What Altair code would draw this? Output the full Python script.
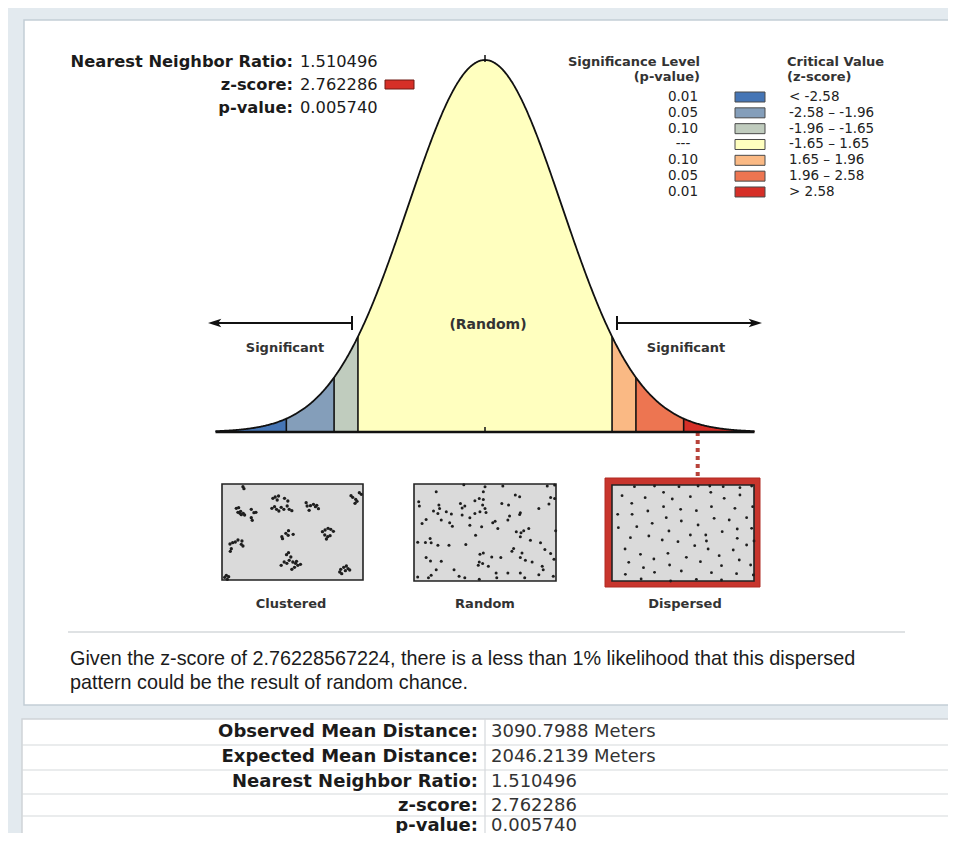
import math
import altair as alt
import numpy as np
import pandas as pd

# ---------------- data ----------------
summary_labels = ["Nearest Neighbor Ratio:", "z-score:", "p-value:"]
summary_values = ["1.510496", "2.762286", "0.005740"]
z_score = 2.762286

bin_lo = [-3.5, -2.58, -1.96, -1.65, 1.65, 1.96, 2.58]
bin_hi = [-2.58, -1.96, -1.65, 1.65, 1.96, 2.58, 3.5]
bin_colors = ["#4575b5", "#849eba", "#c0ccbe", "#ffffbf", "#fab984", "#ed7551", "#d62f27"]
p_levels = ["0.01", "0.05", "0.10", "---", "0.10", "0.05", "0.01"]
crit_labels = ["< -2.58", "-2.58 \u2013 -1.96", "-1.96 \u2013 -1.65", "-1.65 \u2013 1.65",
               "\u00a01.65 \u2013 1.96", "\u00a01.96 \u2013 2.58", "> 2.58"]
boundaries = [-2.58, -1.96, -1.65, 1.65, 1.96, 2.58]

pattern_names = ["Clustered", "Random", "Dispersed"]
clustered_pts = [
    (75, 20), (78, 26),
    (55, 85), (62, 83), (60, 97), (66, 100), (70, 104), (76, 100), (80, 105), (68, 94),
    (100, 88), (108, 98), (114, 97), (100, 113), (103, 121),
    (165, 55), (172, 51), (182, 48), (178, 60), (200, 55), (210, 63), (162, 85), (170, 80),
    (176, 88), (183, 93), (190, 82), (198, 88), (208, 78), (214, 88), (222, 92),
    (265, 68), (268, 78), (278, 77), (287, 73), (293, 80), (302, 86), (274, 91), (297, 76),
    (400, 47), (405, 52), (414, 58), (425, 38), (431, 43), (412, 70), (418, 64),
    (192, 170), (194, 176), (204, 160), (212, 152), (211, 166), (226, 163),
    (314, 155), (322, 150), (331, 145), (339, 148), (347, 154), (321, 165), (330, 170), (337, 167), (326, 177),
    (36, 192), (44, 188), (52, 186), (60, 180), (72, 183), (70, 193), (75, 198), (40, 206), (37, 214),
    (206, 224), (212, 218), (219, 231), (199, 246), (207, 250), (214, 241), (225, 246), (233, 250),
    (240, 256), (230, 262), (222, 268), (190, 256), (248, 253), (236, 244),
    (366, 276), (369, 268), (378, 262), (386, 258), (391, 266), (396, 270), (383, 272), (372, 281),
    (20, 292), (28, 298), (32, 290), (25, 286),
]
random_pts = [
    (80, 35), (162, 14), (225, 20), (278, 18), (410, 18), (432, 15),
    (28, 65), (30, 78), (220, 35), (152, 70), (165, 78), (157, 84), (195, 62), (208, 55), (220, 58),
    (218, 75), (225, 85), (275, 70), (295, 75), (315, 45), (328, 50), (420, 52), (432, 55), (415, 72),
    (88, 75), (90, 85), (72, 93), (85, 100), (110, 95), (125, 102), (157, 105), (180, 113), (195, 100),
    (210, 95), (228, 97), (385, 85), (330, 98), (328, 103), (298, 108), (293, 120),
    (50, 118), (38, 130), (95, 120), (120, 128), (128, 138), (180, 135), (255, 123), (248, 128),
    (263, 145), (215, 140), (318, 155), (332, 158), (340, 152), (355, 145), (330, 170), (197, 165),
    (62, 175), (65, 188), (48, 187), (25, 186), (85, 195), (118, 195), (168, 193),
    (360, 180), (390, 188), (435, 152), (310, 205), (305, 213), (335, 218), (403, 208), (420, 220),
    (210, 222), (220, 218), (245, 230), (272, 232), (208, 245), (218, 250), (205, 255), (235, 258),
    (50, 232), (63, 242), (95, 243), (330, 232), (345, 240), (365, 245), (430, 237),
    (133, 268), (80, 268), (258, 278), (293, 278), (330, 278), (398, 268), (395, 258),
    (25, 290), (57, 292), (65, 285), (148, 288), (165, 292), (208, 297), (260, 292), (343, 292),
    (385, 283), (428, 288),
]
dispersed_pts = [
    (105, 35), (165, 33), (238, 35), (295, 33), (330, 33), (370, 35), (420, 38), (455, 33),
    (68, 62), (137, 68), (192, 52), (218, 72), (272, 65), (333, 52), (373, 70), (420, 60),
    (97, 85), (192, 95), (243, 103), (290, 107), (335, 95), (405, 100), (458, 95),
    (55, 118), (98, 118), (145, 108), (200, 128), (245, 138), (343, 130), (388, 135), (440, 128),
    (57, 158), (112, 155), (158, 145), (208, 168), (272, 180), (295, 150), (318, 180), (367, 170),
    (412, 162), (455, 160),
    (93, 188), (148, 183), (188, 195), (235, 200), (285, 212), (320, 198), (412, 190), (462, 198),
    (77, 222), (123, 238), (163, 252), (205, 235), (260, 247), (325, 222), (358, 242), (400, 225), (440, 210),
    (88, 262), (132, 278), (210, 270), (245, 288), (302, 260), (365, 272), (418, 255), (452, 270),
    (78, 298), (125, 312), (165, 292), (213, 318), (290, 313), (335, 293), (365, 315), (410, 296), (460, 300),
]

message_lines = [
    "Given the z-score of 2.76228567224, there is a less than 1% likelihood that this dispersed",
    "pattern could be the result of random chance.",
]
table_labels = ["Observed Mean Distance:", "Expected Mean Distance:", "Nearest Neighbor Ratio:",
                "z-score:", "p-value:"]
table_values = ["3090.7988 Meters", "2046.2139 Meters", "1.510496", "2.762286", "0.005740"]

# ---------------- layout helpers ----------------
CX = (8, 948)
CY = (8, 833)
W, H = CX[1] - CX[0], CY[1] - CY[0]
VERD = "DejaVu Sans"
TEXTC = "#1b1b1b"


def fit(d0, d1, s0, s1, c0, c1):
    k = (d1 - d0) / (s1 - s0)
    return [d0 + (c0 - s0) * k, d0 + (c1 - s0) * k]


px_x = alt.Scale(domain=list(CX), nice=False, zero=False)
px_y = alt.Scale(domain=list(CY), nice=False, zero=False, reverse=True)


def rects(rows, **kw):
    df = pd.DataFrame(rows, columns=["x0", "x1", "y0", "y1"])
    return alt.Chart(df).mark_rect(**kw).encode(
        x=alt.X("x0:Q", scale=px_x, axis=None), x2="x1:Q",
        y=alt.Y("y0:Q", scale=px_y, axis=None), y2="y1:Q")


def rules(rows, **kw):
    df = pd.DataFrame(rows, columns=["x0", "x1", "y0", "y1"])
    return alt.Chart(df).mark_rule(**kw).encode(
        x=alt.X("x0:Q", scale=px_x, axis=None), x2="x1:Q",
        y=alt.Y("y0:Q", scale=px_y, axis=None), y2="y1:Q")


def texts(xs, ys, ts, **kw):
    df = pd.DataFrame({"x": xs, "y": ys, "t": ts})
    kw.setdefault("font", VERD)
    kw.setdefault("color", TEXTC)
    kw.setdefault("baseline", "middle")
    return alt.Chart(df).mark_text(**kw).encode(
        x=alt.X("x:Q", scale=px_x, axis=None),
        y=alt.Y("y:Q", scale=px_y, axis=None),
        text="t:N")


layers = []

# backgrounds: report card and table
layers.append(rects([(24, 950, 20, 705)], fill="white", stroke="#c3ced6", strokeWidth=1.5))
layers.append(rects([(22, 950, 719, 860)], fill="white", stroke="#cfd4d8", strokeWidth=1.5))

# ---------------- bell curve ----------------
PEAK = 1 / math.sqrt(2 * math.pi)
zx = alt.Scale(domain=fit(0, 1, 485, 562, *CX), nice=False, zero=False)
zy = alt.Scale(domain=fit(0, PEAK, 432, 60, CY[1], CY[0]), nice=False, zero=False)


def pdf(z):
    return np.exp(-np.asarray(z, dtype=float) ** 2 / 2) / math.sqrt(2 * math.pi)


seg_rows = []
for lo, hi, name in zip(bin_lo, bin_hi, crit_labels):
    zs = np.concatenate([[lo], np.arange(math.ceil(lo * 100) / 100, hi, 0.01), [hi]])
    for z in zs:
        seg_rows.append({"z": float(z), "pdf": float(pdf(z)), "base": 0.0, "seg": name})
seg_df = pd.DataFrame(seg_rows)

areas = alt.Chart(seg_df).mark_area(opacity=1).encode(
    x=alt.X("z:Q", scale=zx, axis=None),
    y=alt.Y("pdf:Q", scale=zy, axis=None, stack=None),
    y2="base:Q",
    color=alt.Color("seg:N", scale=alt.Scale(domain=crit_labels, range=bin_colors), legend=None),
    detail="seg:N",
)

bdf = pd.DataFrame({"z": boundaries, "pdf": pdf(boundaries), "base": 0.0})
brules = alt.Chart(bdf).mark_rule(color="#111", strokeWidth=1.6).encode(
    x=alt.X("z:Q", scale=zx, axis=None),
    y=alt.Y("pdf:Q", scale=zy, axis=None), y2="base:Q")

cgrid = np.arange(-3.5, 3.5001, 0.01)
cdf = pd.DataFrame({"z": cgrid, "pdf": pdf(cgrid)})
cline = alt.Chart(cdf).mark_line(color="#111", strokeWidth=1.8).encode(
    x=alt.X("z:Q", scale=zx, axis=None),
    y=alt.Y("pdf:Q", scale=zy, axis=None))

ddf = pd.DataFrame({"z": [z_score], "pdf": [0.0]})
dotted = alt.Chart(ddf).mark_rule(color="#b8433b", strokeWidth=4, strokeDash=[4, 4]).encode(
    x=alt.X("z:Q", scale=zx, axis=None),
    y=alt.Y("pdf:Q", scale=zy, axis=None),
    y2=alt.value(477 - CY[0]))

basedf = pd.DataFrame({"z": [bin_lo[0]], "z2": [bin_hi[-1]], "pdf": [0.0]})
baseline = alt.Chart(basedf).mark_rule(color="#111", strokeWidth=2.5).encode(
    x=alt.X("z:Q", scale=zx, axis=None), x2="z2:Q",
    y=alt.Y("pdf:Q", scale=zy, axis=None))

curve = alt.layer(areas, brules, cline, dotted, baseline)
layers.append(curve)

# small ticks at the peak and at the centre of the baseline
layers.append(rules([(485, 485, 55, 62), (485, 485, 427, 432)], color="#111", strokeWidth=1.5))

# significance arrows
layers.append(rules([(212, 352, 323, 323), (617, 758, 323, 323)], color="#111", strokeWidth=2))
layers.append(rules([(352, 352, 316, 330), (617, 617, 316, 330)], color="#111", strokeWidth=2))
arr = pd.DataFrame({"x": [215, 755], "y": [323, 323], "d": ["l", "r"]})
layers.append(alt.Chart(arr[arr.d == "l"]).mark_point(
    shape="M -1 0 L 0.9 -0.6 L 0.45 0 L 0.9 0.6 Z", filled=True, color="#111", size=196, opacity=1
).encode(x=alt.X("x:Q", scale=px_x, axis=None), y=alt.Y("y:Q", scale=px_y, axis=None)))
layers.append(alt.Chart(arr[arr.d == "r"]).mark_point(
    shape="M 1 0 L -0.9 -0.6 L -0.45 0 L -0.9 0.6 Z", filled=True, color="#111", size=196, opacity=1
).encode(x=alt.X("x:Q", scale=px_x, axis=None), y=alt.Y("y:Q", scale=px_y, axis=None)))

layers.append(texts([488], [325], ["(Random)"], fontSize=14, fontWeight="bold", align="center",
                    color="#333"))
layers.append(texts([285, 686], [348, 348], ["Significant", "Significant"],
                    fontSize=13, fontWeight="bold", align="center", color="#333"))

# ---------------- summary (top left) ----------------
sy = [62, 85, 108]
layers.append(texts([293] * 3, sy, summary_labels, fontSize=16.3, fontWeight="bold", align="right"))
layers.append(texts([300] * 3, sy, summary_values, fontSize=16.3, align="left"))
layers.append(rects([(385, 414, 80, 89)], fill=bin_colors[-1], stroke="#6e1a15", strokeWidth=1))

# ---------------- legend (top right) ----------------
layers.append(texts([700, 700], [62, 77], ["Significance Level", "(p-value)"],
                    fontSize=13, fontWeight="bold", align="right", color="#333"))
layers.append(texts([787, 787], [62, 77], ["Critical Value", "(z-score)"],
                    fontSize=13, fontWeight="bold", align="left", color="#333"))
ry = [97 + i * 15.83 for i in range(len(p_levels))]
layers.append(texts([683] * 7, ry, p_levels, fontSize=13.5, align="center", color="#222"))
layers.append(texts([789] * 7, ry, crit_labels, fontSize=13.5, align="left", color="#222"))
sw = pd.DataFrame({"x0": [735] * 7, "x1": [765] * 7,
                   "y0": [y - 5 for y in ry], "y1": [y + 5 for y in ry], "seg": crit_labels})
layers.append(alt.Chart(sw).mark_rect(stroke="#4a4a4a", strokeWidth=1).encode(
    x=alt.X("x0:Q", scale=px_x, axis=None), x2="x1:Q",
    y=alt.Y("y0:Q", scale=px_y, axis=None), y2="y1:Q",
    color=alt.Color("seg:N", scale=alt.Scale(domain=crit_labels, range=bin_colors), legend=None)))

# ---------------- pattern panels ----------------
PANEL_FILL = "#dadada"
layers.append(rects([(605, 760, 478, 587)], fill="#c8352d", stroke="#b02a22", strokeWidth=1))
layers.append(rects([(222, 363, 484, 580), (414, 556, 484, 581), (612, 754, 485, 581)],
                    fill=PANEL_FILL, stroke="#222", strokeWidth=1.6))

panel_specs = [
    (clustered_pts, (12, 436, 12, 300), (222, 363, 484, 580), 11),
    (random_pts, (14, 436, 12, 302), (414, 556, 484, 581), 9),
    (dispersed_pts, (38, 462, 30, 318), (612, 754, 485, 581), 8),
]
for pts, dbox, sbox, sz in panel_specs:
    pdf_pts = pd.DataFrame(pts, columns=["px", "py"])
    xs = alt.Scale(domain=fit(dbox[0], dbox[1], sbox[0], sbox[1], *CX), nice=False, zero=False)
    ys = alt.Scale(domain=fit(dbox[2], dbox[3], sbox[2], sbox[3], *CY), nice=False, zero=False,
                   reverse=True)
    layers.append(alt.Chart(pdf_pts).mark_circle(size=sz, color="#1e1e1e", opacity=1).encode(
        x=alt.X("px:Q", scale=xs, axis=None), y=alt.Y("py:Q", scale=ys, axis=None)))

layers.append(texts([291, 485, 685], [604] * 3, pattern_names, fontSize=13, fontWeight="bold",
                    align="center", color="#333"))

# ---------------- message ----------------
layers.append(rules([(68, 905, 632, 632)], color="#d4d8db", strokeWidth=1.5))
layers.append(texts([70, 70], [659, 683], message_lines, font="Liberation Sans", fontSize=19.8,
                    align="left"))

# ---------------- table ----------------
layers.append(rules([(22, 950, y, y) for y in [745, 770, 794, 816]], color="#d6d9dc", strokeWidth=1.2))
layers.append(rules([(485, 485, 719, 860)], color="#d6d9dc", strokeWidth=1.2))
ty = [732, 757, 782, 805.5, 825.5]
layers.append(texts([478] * 5, ty, table_labels, fontSize=18, fontWeight="bold", align="right"))
layers.append(texts([491] * 5, ty, table_values, fontSize=18, align="left", color="#333"))

chart = alt.layer(*layers).resolve_scale(
    x="independent", y="independent", color="independent"
).properties(
    width=W, height=H, padding=0, background="#e3eaef",
    autosize=alt.AutoSizeParams(type="none"),
).configure_view(stroke=None)

chart.save("out.html", embed_options={"renderer": "svg", "actions": False})
